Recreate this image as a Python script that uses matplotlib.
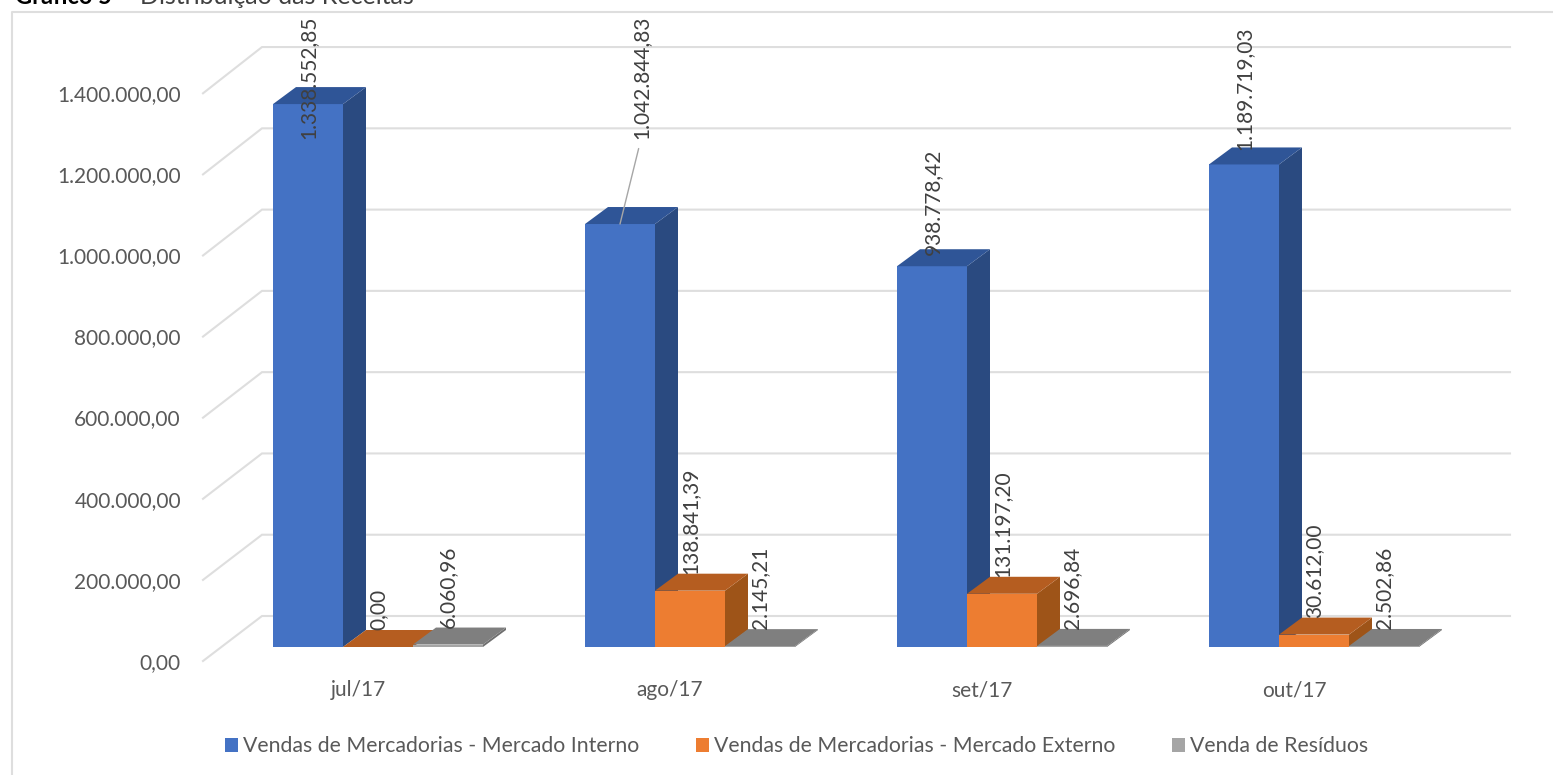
import matplotlib
matplotlib.use("Agg")
import matplotlib.pyplot as plt
from matplotlib.patches import Polygon

plt.rcParams['font.family'] = ['Lato', 'DejaVu Sans']

categories = ['jul/17', 'ago/17', 'set/17', 'out/17']
series_names = ['Vendas de Mercadorias - Mercado Interno',
                'Vendas de Mercadorias - Mercado Externo',
                'Venda de Resíduos']
interno = [1338552.85, 1042844.83, 938778.42, 1189719.03]
externo = [0.00, 138841.39, 131197.20, 30612.00]
residuos = [6060.96, 2145.21, 2696.84, 2502.86]
yticks = [0, 200000, 400000, 600000, 800000, 1000000, 1200000, 1400000]

W, H = 1553, 775
PX_PER_CAT = 312.0
PX_PER_VAL = 405.6e-6
X0, Y0 = 378.0, 647.0      # pixel of category 0 centre, value 0
BAR_W = 70 / PX_PER_CAT
DX, DY = 23 / PX_PER_CAT, 17 / PX_PER_VAL
TXT = '#595959'
LBL = '#404040'
GRID = '#DEDEDE'
FS = 15

def br(v):
    s = f'{v:,.2f}'
    return s.replace(',', 'X').replace('.', ',').replace('X', '.')

fig = plt.figure(figsize=(W / 100, H / 100), dpi=100, facecolor='white')
ax = fig.add_axes([0, 0, 1, 1])
ax.set_xlim((0 - X0) / PX_PER_CAT, (W - X0) / PX_PER_CAT)
ax.set_ylim((Y0 - H) / PX_PER_VAL, Y0 / PX_PER_VAL)
ax.axis('off')

def px(xp, yp):
    return (xp - X0) / PX_PER_CAT, (Y0 - yp) / PX_PER_VAL

# frame: left and top edges are visible
ax.plot(*zip(px(12, 790), px(12, 12), px(1560, 12)), color=GRID, lw=1.5, zorder=1)

# walls and gridlines
for t in yticks:
    yb = 616 - t * 406.4e-6
    yf = 661 - t * 405.5e-6
    ax.plot(*zip(px(203, yf), px(262, yb), px(1510, yb)), color=GRID, lw=1.5, zorder=1,
            solid_joinstyle='miter')

colors = [('#4472C4', '#2A4A80', '#2F5597'),
          ('#ED7D31', '#9E5418', '#B55D20'),
          ('#A5A5A5', '#6F6F6F', '#7F7F7F')]
all_series = [interno, externo, residuos]

for j, (vals, name, col) in enumerate(zip(all_series, series_names, colors)):
    off = (j - 1) * BAR_W
    for i, v in enumerate(vals):
        x = i + off
        l, r = x - BAR_W / 2, x + BAR_W / 2
        ax.bar(x, v, BAR_W, color=col[0], zorder=3 + j, linewidth=0,
               label=name if i == 0 else None)
        ax.add_patch(Polygon([(r, 0), (r + DX, DY), (r + DX, v + DY), (r, v)],
                             facecolor=col[1], edgecolor='none', zorder=3 + j))
        ax.add_patch(Polygon([(l, v), (l + DX, v + DY), (r + DX, v + DY), (r, v)],
                             facecolor=col[2], edgecolor='none', zorder=3 + j))

# data labels (offsets in pixels from the top centre of each bar)
default = (0, 17)
offsets = {(0, 0): (0, -35), (0, 2): (1, 11), (0, 3): (0, 14)}
for j, vals in enumerate(all_series):
    off = (j - 1) * BAR_W
    for i, v in enumerate(vals):
        if (j, i) == (0, 1):
            continue
        dxy = offsets.get((j, i), default)
        ax.annotate(br(v), xy=(i + off, v), xytext=dxy, textcoords='offset pixels',
                    rotation=90, ha='center', va='bottom', color=LBL, fontsize=FS, zorder=10)
# callout for ago/17
ax.annotate(br(interno[1]), xy=(1 - BAR_W, interno[1]), xytext=(21, 85),
            textcoords='offset pixels', rotation=90, ha='center', va='bottom',
            color=LBL, fontsize=FS, zorder=10,
            arrowprops=dict(arrowstyle='-', color='#A6A6A6', lw=1, shrinkA=5, shrinkB=0,
                            relpos=(0.5, 0)))

# axis carrying tick labels
tax = fig.add_axes([0, (H - 661) / H, 1, (661 - 93) / H], facecolor='none')
tax.set_xlim((0 - 358) / PX_PER_CAT, (W - 358) / PX_PER_CAT)
tax.set_ylim(0, 1400000)
for s in tax.spines.values():
    s.set_visible(False)
tax.set_xticks(range(len(categories)), categories)
tax.set_yticks(yticks, [br(t) for t in yticks])
tax.tick_params(axis='both', length=0, labelsize=FS, labelcolor=TXT)
tax.tick_params(axis='y', pad=-181 * 0.72)
tax.tick_params(axis='x', pad=14)

h, l = ax.get_legend_handles_labels()
ax.legend(h, l, ncol=3, loc='center', bbox_to_anchor=(796.5 / W, 1 - 746.5 / H), frameon=False,
          fontsize=15.3, labelcolor=TXT, handlelength=0.61, handleheight=0.61,
          handletextpad=0.24, columnspacing=2.68, borderpad=0, borderaxespad=0)

# caption above the frame, cut by the top edge as in the source image
fig.text(15 / W, 1 - 4 / H, 'Gráfico 5', fontsize=17, fontweight='bold', color='black', va='baseline', ha='left')
fig.text(140 / W, 1 - 4 / H, 'Distribuição das Receitas', fontsize=18, color='#404040', va='baseline', ha='left')

fig.savefig('out.png', dpi=100)
